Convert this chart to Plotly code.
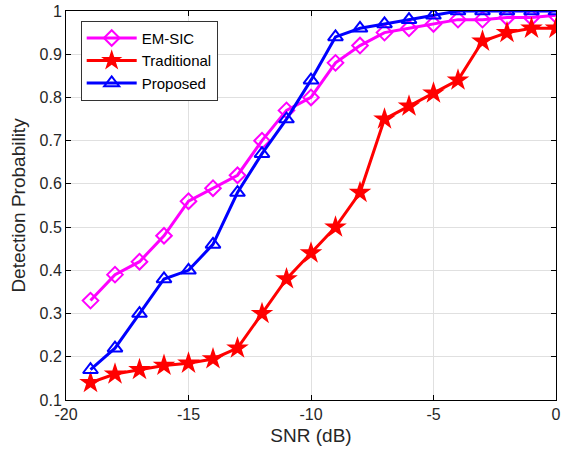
import plotly.graph_objects as go

snr = list(range(-19, 1))
em_sic = [0.33, 0.39, 0.42, 0.48, 0.56, 0.59, 0.62, 0.70, 0.77, 0.80,
          0.88, 0.92, 0.95, 0.96, 0.97, 0.98, 0.98, 0.985, 0.985, 0.99]
traditional = [0.14, 0.16, 0.17, 0.18, 0.185, 0.195, 0.22, 0.30, 0.38, 0.44,
               0.50, 0.58, 0.75, 0.78, 0.81, 0.84, 0.93, 0.95, 0.96, 0.96]
proposed = [0.17, 0.22, 0.30, 0.38, 0.40, 0.46, 0.58, 0.67, 0.75, 0.84,
            0.94, 0.96, 0.97, 0.98, 0.99, 1.0, 1.0, 1.0, 1.0, 1.0]

x_ticks = [-20, -15, -10, -5, 0]
x_labels = ["-20", "-15", "-10", "-5", "0"]
y_ticks = [0.1, 0.2, 0.3, 0.4, 0.5, 0.6, 0.7, 0.8, 0.9, 1.0]
y_labels = ["0.1", "0.2", "0.3", "0.4", "0.5", "0.6", "0.7", "0.8", "0.9", "1"]

FONT = "Liberation Sans, Arial"
TXT = "#262626"

fig = go.Figure()
fig.add_trace(go.Scatter(x=snr, y=em_sic, name="EM-SIC", mode="lines+markers",
                         line=dict(color="#FF00FF", width=3),
                         marker=dict(symbol="diamond-open", size=12, color="#FF00FF",
                                     line=dict(width=2))))
fig.add_trace(go.Scatter(x=snr, y=traditional, name="Traditional", mode="lines+markers",
                         line=dict(color="#FF0000", width=3),
                         marker=dict(symbol="star", size=17, color="#FF0000")))
fig.add_trace(go.Scatter(x=snr, y=proposed, name="Proposed", mode="lines+markers",
                         line=dict(color="#0000FF", width=3),
                         marker=dict(symbol="triangle-up-open", size=13, color="#0000FF",
                                     line=dict(width=2))))

axis_common = dict(showline=True, linecolor="black", linewidth=1, mirror="allticks",
                   ticks="inside", ticklen=5, tickcolor="black",
                   showgrid=True, gridcolor="#E0E0E0", gridwidth=1, zeroline=False,
                   ticklabeloverflow="allow",
                   tickfont=dict(family=FONT, size=16, color=TXT))

fig.update_xaxes(range=[-20, 0], tickvals=x_ticks, ticktext=x_labels,
                 title=dict(text="SNR (dB)", font=dict(family=FONT, size=19, color=TXT),
                            standoff=6),
                 **axis_common)
fig.update_yaxes(range=[0.1, 1.0], tickvals=y_ticks, ticktext=y_labels,
                 title=dict(text="Detection Probability", font=dict(family=FONT, size=19, color=TXT),
                            standoff=8),
                 **axis_common)

fig.update_layout(width=563, height=464, autosize=False,
                  margin=dict(l=66, r=2, t=11, b=64),
                  plot_bgcolor="white", paper_bgcolor="white",
                  legend=dict(x=0.03, y=0.975, xanchor="left", yanchor="top",
                              bgcolor="white", bordercolor="#333333", borderwidth=1,
                              font=dict(family=FONT, size=15, color="black"),
                              itemwidth=50, tracegroupgap=0))

fig.write_html("out.html",
               config={"displayModeBar": False, "responsive": False},
               post_script="document.body.style.margin='0';document.body.style.overflow='hidden';")
